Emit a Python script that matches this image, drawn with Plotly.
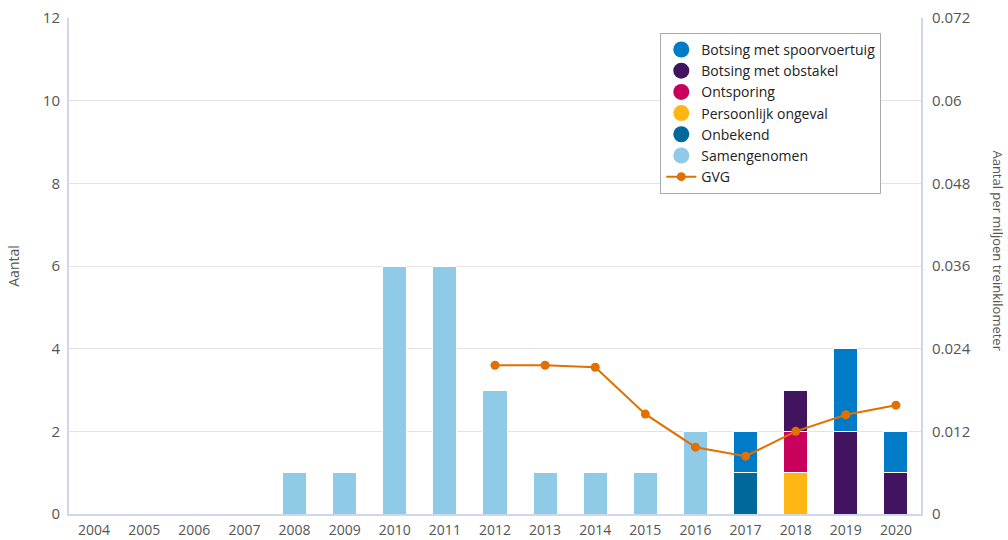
import plotly.graph_objects as go

years = [str(y) for y in range(2004, 2021)]
samengenomen = [0, 0, 0, 0, 1, 1, 6, 6, 3, 1, 1, 1, 2, 0, 0, 0, 0]
onbekend =     [0, 0, 0, 0, 0, 0, 0, 0, 0, 0, 0, 0, 0, 1, 0, 0, 0]
persoonlijk =  [0, 0, 0, 0, 0, 0, 0, 0, 0, 0, 0, 0, 0, 0, 1, 0, 0]
ontsporing =   [0, 0, 0, 0, 0, 0, 0, 0, 0, 0, 0, 0, 0, 0, 1, 0, 0]
obstakel =     [0, 0, 0, 0, 0, 0, 0, 0, 0, 0, 0, 0, 0, 0, 1, 2, 1]
spoorvoertuig = [0, 0, 0, 0, 0, 0, 0, 0, 0, 0, 0, 0, 0, 1, 0, 2, 1]
gvg_years = ["2012", "2013", "2014", "2015", "2016", "2017", "2018", "2019", "2020"]
gvg = [0.0216, 0.0216, 0.0213, 0.0145, 0.0097, 0.0084, 0.0120, 0.0144, 0.0158]

series = [
    ("Samengenomen", samengenomen, "#8fcae7", 6),
    ("Onbekend", onbekend, "#01689b", 5),
    ("Persoonlijk ongeval", persoonlijk, "#ffb612", 4),
    ("Ontsporing", ontsporing, "#ca005d", 3),
    ("Botsing met obstakel", obstakel, "#42145f", 2),
    ("Botsing met spoorvoertuig", spoorvoertuig, "#007bc7", 1),
]

fig = go.Figure()
for name, vals, color, rank in series:
    fig.add_trace(go.Bar(
        x=years, y=vals, name=name, marker=dict(color=color, line=dict(color="white", width=1)),
        showlegend=False, legendgroup=name, width=0.48,
    ))
    fig.add_trace(go.Scatter(
        x=[None], y=[None], mode="markers", name=name, legendgroup=name, legendrank=rank,
        marker=dict(color=color, size=17, symbol="circle"),
    ))

fig.add_trace(go.Scatter(
    x=gvg_years, y=gvg, name="GVG", mode="lines+markers", yaxis="y2", legendrank=7,
    line=dict(color="#e17000", width=2), marker=dict(color="#e17000", size=9),
))

font = "Open Sans, Noto Sans, sans-serif"
axcol = "#cdd7ee"
fig.update_layout(
    barmode="stack",
    width=1008, height=540,
    margin=dict(l=69, r=87, t=18, b=26, autoexpand=False),
    plot_bgcolor="white", paper_bgcolor="white",
    font=dict(family=font, size=14, color="#555555"),
    xaxis=dict(type="category", range=[-0.5, 16.5], showgrid=False, showline=True, automargin=False,
               linecolor=axcol, linewidth=2, ticks="", tickfont=dict(size=14, color="#555555"),
               ticklabelstandoff=2),
    yaxis=dict(range=[0, 12], dtick=2, gridcolor="#e3e3e3", gridwidth=1, showline=True, automargin=False,
               linecolor=axcol, linewidth=2, zeroline=False, ticks="", ticklabelstandoff=4,
               title=dict(text="Aantal", font=dict(size=14, color="#555555"), standoff=20),
               tickfont=dict(size=15, color="#555555")),
    yaxis2=dict(range=[0, 0.072], dtick=0.012, overlaying="y", side="right", showgrid=False, automargin=False,
                showline=True, linecolor=axcol, linewidth=2, zeroline=False, ticks="",
                tickformat="~g", tickfont=dict(size=15, color="#555555"), ticklabelstandoff=6),
    legend=dict(x=0.694, y=0.97, xanchor="left", yanchor="top", bordercolor="#aaaaaa",
                borderwidth=1, bgcolor="white", font=dict(size=14, color="#222222"),
                itemsizing="trace", tracegroupgap=0, traceorder="normal"),
    annotations=[dict(text="Aantal per miljoen treinkilometer", textangle=90, xref="paper", yref="paper",
                      x=1.09, y=0.53, xanchor="center", showarrow=False, font=dict(size=13, color="#555555"))],
)

fig.write_html("out.html", config={"displayModeBar": False},
               post_script="document.body.style.margin='0';document.body.style.overflow='hidden';")
